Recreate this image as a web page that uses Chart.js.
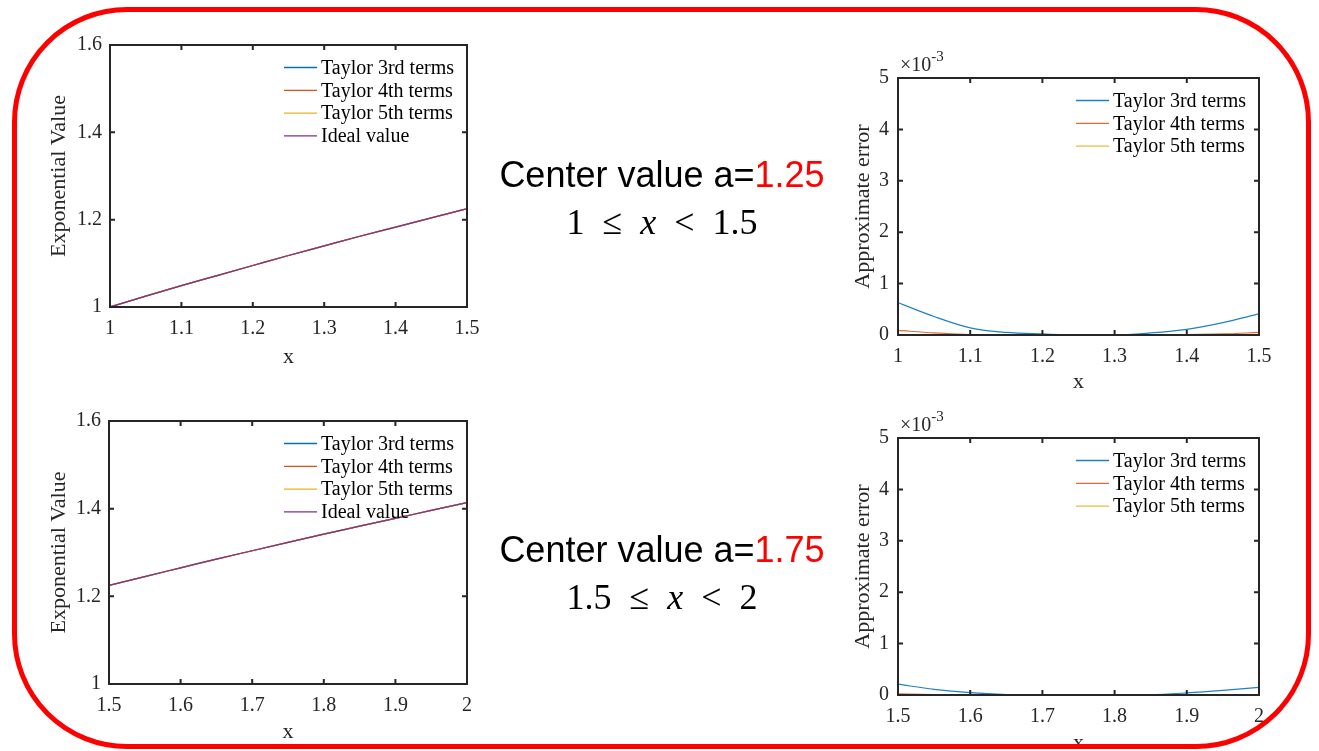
<!DOCTYPE html>
<html>
<head>
<meta charset="utf-8">
<script src="https://cdn.jsdelivr.net/npm/chart.js@4.4.1/dist/chart.umd.min.js"></script>
<style>
html,body{margin:0;padding:0;background:#fff;width:1319px;height:751px;overflow:hidden}
canvas{position:absolute}
.frame{position:absolute;left:12px;top:7px;width:1299px;height:742px;box-sizing:border-box;border:5px solid #ff0000;border-radius:115px;pointer-events:none}
.cap{position:absolute;left:482px;width:360px;text-align:center;white-space:nowrap;color:#000}
.c1{font-family:"Liberation Sans",Arial,sans-serif;font-size:36px;line-height:36px}
.c1 span{color:#ff0000}
.c2{font-family:"Liberation Serif","Times New Roman",serif;font-size:36px;line-height:36px;word-spacing:9px}
</style>
</head>
<body>
<canvas id="expTopChart" width="440" height="350" style="left:40px;top:30px"></canvas>
<canvas id="errTopChart" width="440" height="360" style="left:840px;top:40px"></canvas>
<canvas id="expBotChart" width="440" height="346" style="left:40px;top:405px"></canvas>
<canvas id="errBotChart" width="440" height="370" style="left:840px;top:400px"></canvas>

<div class="cap c1" style="top:157px">Center value a=<span>1.25</span></div>
<div class="cap c2" style="top:204px">1 ≤ <i>x</i> &lt; 1.5</div>
<div class="cap c1" style="top:532px">Center value a=<span>1.75</span></div>
<div class="cap c2" style="top:579px">1.5 ≤ <i>x</i> &lt; 2</div>

<div class="frame"></div>

<script>
// sample points along x
const xTop = [1, 1.05, 1.1, 1.15, 1.2, 1.25, 1.3, 1.35, 1.4, 1.45, 1.5];
const xBot = [1.5, 1.55, 1.6, 1.65, 1.7, 1.75, 1.8, 1.85, 1.9, 1.95, 2];

// exponential value (all four curves overlap)
const expTop = [1.000, 1.025, 1.049, 1.072, 1.095, 1.118, 1.140, 1.162, 1.183, 1.204, 1.225];
const expBot = [1.225, 1.245, 1.265, 1.285, 1.304, 1.323, 1.342, 1.360, 1.378, 1.396, 1.414];

// approximate error, in units of 1e-3
const err3Top = [0.63, 0.36, 0.14, 0.05, 0.02, 0.00, 0.00, 0.04, 0.11, 0.24, 0.41];
const err4Top = [0.09, 0.04, 0.01, 0.00, 0.00, 0.00, 0.00, 0.00, 0.01, 0.02, 0.05];
const err5Top = [0.012, 0.004, 0.001, 0, 0, 0, 0, 0, 0.001, 0.003, 0.008];
const err3Bot = [0.21, 0.11, 0.045, 0.01, 0.00, 0.00, 0.00, 0.005, 0.04, 0.09, 0.15];
const err4Bot = [0.02, 0.008, 0.002, 0, 0, 0, 0, 0, 0.001, 0.004, 0.01];
const err5Bot = [0.002, 0.001, 0, 0, 0, 0, 0, 0, 0, 0, 0.001];

// tick labels
const xTicksTop = [1, 1.1, 1.2, 1.3, 1.4, 1.5];
const xTicksBot = [1.5, 1.6, 1.7, 1.8, 1.9, 2];
const yTicksExp = [1, 1.2, 1.4, 1.6];
const yTicksErr = [0, 1, 2, 3, 4, 5];

const namesExp = ["Taylor 3rd terms", "Taylor 4th terms", "Taylor 5th terms", "Ideal value"];
const namesErr = ["Taylor 3rd terms", "Taylor 4th terms", "Taylor 5th terms"];

const serif = "'Liberation Serif','Times New Roman',serif";
const axisCol = "#262626";

/* box, inward ticks, legend and exponent like matlab */
const matlabAxes = {
  id: "matlabAxes",
  afterDraw(chart, args, o) {
    const {ctx, chartArea: a, scales} = chart;
    ctx.save();
    ctx.strokeStyle = axisCol;
    ctx.lineWidth = 2;
    ctx.strokeRect(a.left, a.top, a.right - a.left, a.bottom - a.top);
    ctx.beginPath();
    scales.x.ticks.forEach(t => {
      const p = scales.x.getPixelForValue(t.value);
      ctx.moveTo(p, a.bottom); ctx.lineTo(p, a.bottom - 5);
      ctx.moveTo(p, a.top); ctx.lineTo(p, a.top + 5);
    });
    scales.y.ticks.forEach(t => {
      const p = scales.y.getPixelForValue(t.value);
      ctx.moveTo(a.left, p); ctx.lineTo(a.left + 5, p);
      ctx.moveTo(a.right, p); ctx.lineTo(a.right - 5, p);
    });
    ctx.stroke();

    // legend
    ctx.font = "20px " + serif;
    ctx.textBaseline = "middle";
    ctx.textAlign = "left";
    chart.data.datasets.forEach((d, i) => {
      const y = a.top + 22.5 + i * 22.8;
      ctx.strokeStyle = d.borderColor;
      ctx.lineWidth = 1.3;
      ctx.beginPath();
      ctx.moveTo(a.right - 183, y); ctx.lineTo(a.right - 150, y);
      ctx.stroke();
      ctx.fillStyle = "#000";
      ctx.fillText(d.label, a.right - 146, y + 1);
    });

    if (o.exp) {
      ctx.fillStyle = axisCol;
      ctx.font = "20px " + serif;
      ctx.fillText("×10", a.left + 2, a.top - 12);
      const w = ctx.measureText("×10").width;
      ctx.font = "15px " + serif;
      ctx.fillText(o.exp, a.left + 2 + w, a.top - 21);
    }
    ctx.restore();
  }
};

function makeChart(id, cfg) {
  const n = cfg.names.length;
  const datasets = cfg.names.map((name, i) => ({
    label: name,
    data: cfg.x.map((x, j) => ({x: x, y: cfg.y[i][j]})),
    borderColor: cfg.colors[i],
    borderWidth: 1.2,
    pointRadius: 0,
    cubicInterpolationMode: "monotone",
    fill: false,
    order: n - i // later series drawn on top
  }));
  const xt = cfg.xTicks, yt = cfg.yTicks;
  return new Chart(document.getElementById(id), {
    type: "line",
    data: {datasets},
    options: {
      responsive: false,
      animation: false,
      layout: {padding: {top: cfg.pad[0], right: cfg.pad[1], bottom: 0, left: 0}},
      plugins: {legend: {display: false}, tooltip: {enabled: false}, matlabAxes: {exp: cfg.exp}},
      scales: {
        x: {
          type: "linear", min: xt[0], max: xt[xt.length - 1],
          afterBuildTicks: s => { s.ticks = xt.map(v => ({value: v})); },
          afterFit: s => { s.height = cfg.xh; s.paddingLeft = 0; s.paddingRight = 0; },
          grid: {display: false, drawTicks: false},
          border: {display: false},
          ticks: {font: {family: serif, size: 20}, color: axisCol, padding: 10, maxRotation: 0, autoSkip: false, callback: v => String(v)},
          title: {display: true, text: "x", font: {family: serif, size: 22}, color: axisCol, padding: {top: 0, bottom: cfg.xtPad}}
        },
        y: {
          type: "linear", min: yt[0], max: yt[yt.length - 1],
          afterBuildTicks: s => { s.ticks = yt.map(v => ({value: v})); },
          afterFit: s => { s.width = cfg.yw; s.paddingTop = 0; s.paddingBottom = 0; },
          grid: {display: false, drawTicks: false},
          border: {display: false},
          ticks: {font: {family: serif, size: 20}, color: axisCol, padding: cfg.ytickPad, autoSkip: false, callback: v => String(v)},
          title: {display: true, text: cfg.yTitle, font: {family: serif, size: 22}, color: axisCol, padding: {top: cfg.ytPad, bottom: 0}}
        }
      }
    },
    plugins: [matlabAxes]
  });
}

const colExp = ["#0072BD", "#D95319", "#EDB120", "#7E2F8E"];
const colErr = ["#1f80c6", "#de6a3c", "#efbb3a"];

makeChart("expTopChart", {
  names: namesExp, x: xTop, y: [expTop, expTop, expTop, expTop], colors: colExp,
  xTicks: xTicksTop, yTicks: yTicksExp, yTitle: "Exponential Value",
  pad: [15, 13], yw: 70, xh: 73, xtPad: 10, ytPad: 6, ytickPad: 8
});
makeChart("errTopChart", {
  names: namesErr, x: xTop, y: [err3Top, err4Top, err5Top], colors: colErr,
  xTicks: xTicksTop, yTicks: yTicksErr, yTitle: "Approximate error", exp: "-3",
  pad: [38, 21], yw: 58, xh: 65, xtPad: 5, ytPad: 10, ytickPad: 9
});
makeChart("expBotChart", {
  names: namesExp, x: xBot, y: [expBot, expBot, expBot, expBot], colors: colExp,
  xTicks: xTicksBot, yTicks: yTicksExp, yTitle: "Exponential Value",
  pad: [16, 13], yw: 69, xh: 67, xtPad: 6, ytPad: 6, ytickPad: 8
});
makeChart("errBotChart", {
  names: namesErr, x: xBot, y: [err3Bot, err4Bot, err5Bot], colors: colErr,
  xTicks: xTicksBot, yTicks: yTicksErr, yTitle: "Approximate error", exp: "-3",
  pad: [38, 21], yw: 58, xh: 75, xtPad: 14, ytPad: 10, ytickPad: 9
});
</script>
</body>
</html>
